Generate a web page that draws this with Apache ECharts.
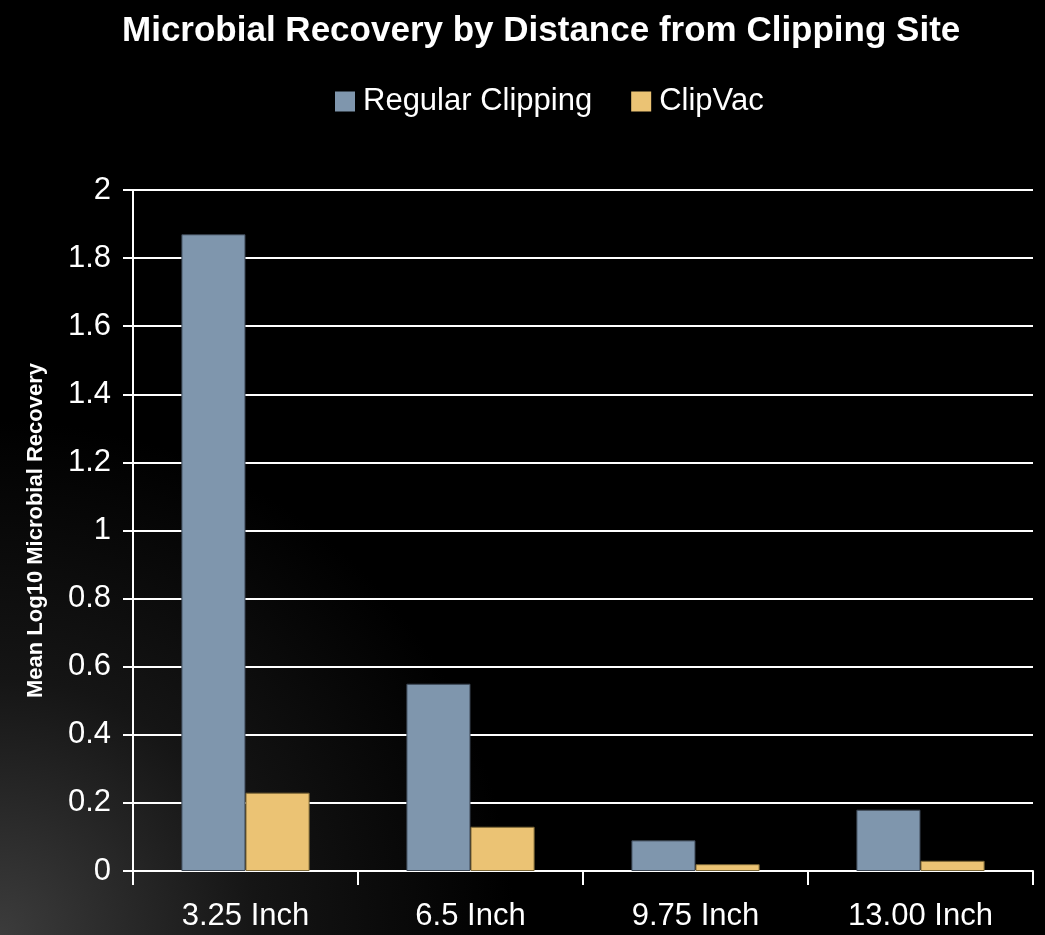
<!DOCTYPE html>
<html><head><meta charset="utf-8">
<script src="https://cdn.jsdelivr.net/npm/echarts@6/dist/echarts.min.js"></script>
<style>html,body{margin:0;padding:0;background:#000}#c{width:1045px;height:935px}</style>
</head><body><div id="c"></div>
<script>
const categories = ['3.25 Inch', '6.5 Inch', '9.75 Inch', '13.00 Inch'];
const regularClipping = [1.87, 0.55, 0.09, 0.18];
const clipVac = [0.23, 0.13, 0.02, 0.03];
const seriesNames = ['Regular Clipping', 'ClipVac'];
const font = '"Liberation Sans Narrow", "Arial Narrow", "Liberation Sans", Arial, sans-serif';
const chart = echarts.init(document.getElementById('c'));
chart.setOption({
  backgroundColor: {
    type: 'radial', x: 0, y: 1, r: 0.55,
    colorStops: [{offset: 0, color: '#3c3c3c'}, {offset: 0.5, color: '#151515'}, {offset: 1, color: '#000000'}]
  },
  title: {
    text: 'Microbial Recovery by Distance from Clipping Site',
    left: 117, top: 9,
    textStyle: {color: '#fff', fontFamily: font, fontWeight: 'bold', fontSize: 35}
  },
  legend: {
    top: 81, left: 330, itemWidth: 20, itemHeight: 20, itemGap: 39,
    icon: 'rect',
    itemStyle: {borderWidth: 0},
    textStyle: {color: '#fff', fontFamily: font, fontSize: 31, padding: [0, 0, 0, 3]},
    data: seriesNames
  },
  grid: {left: 133, right: 12, top: 190, bottom: 64, containLabel: false},
  xAxis: {
    type: 'category', data: categories,
    axisLine: {lineStyle: {color: '#fff', width: 2}},
    axisTick: {show: true, length: 14, lineStyle: {color: '#fff', width: 2}},
    axisLabel: {color: '#fff', fontFamily: font, fontSize: 31, margin: 30}
  },
  yAxis: {
    type: 'value', min: 0, max: 2, interval: 0.2,
    name: 'Mean Log10 Microbial Recovery', nameLocation: 'middle', nameGap: 86,
    nameTextStyle: {color: '#fff', fontFamily: font, fontWeight: 'bold', fontSize: 22},
    axisLine: {show: true, lineStyle: {color: '#fff', width: 2}},
    axisTick: {show: true, length: 10, lineStyle: {color: '#fff', width: 2}},
    splitLine: {lineStyle: {color: '#fff', width: 2}},
    axisLabel: {color: '#fff', fontFamily: font, fontSize: 31, margin: 22,
      formatter: v => String(Math.round(v * 10) / 10)}
  },
  series: [
    {name: seriesNames[0], type: 'bar', data: regularClipping, barGap: '0%', barCategoryGap: '43%',
     itemStyle: {color: '#7F96AD', borderColor: '#3a4552', borderWidth: 1}},
    {name: seriesNames[1], type: 'bar', data: clipVac,
     itemStyle: {color: '#EBC374', borderColor: '#7a6636', borderWidth: 1}}
  ]
});
</script></body></html>
